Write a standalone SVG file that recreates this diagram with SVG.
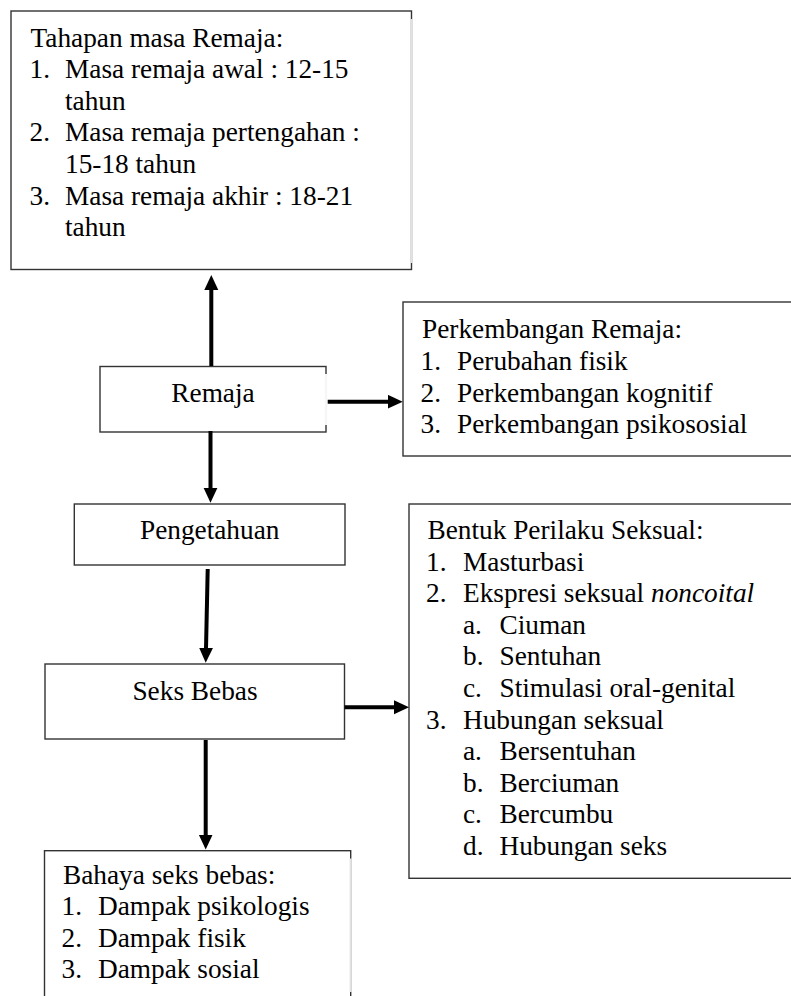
<svg xmlns="http://www.w3.org/2000/svg" width="791" height="996" viewBox="0 0 791 996">
<style>
  .box { fill: #ffffff; stroke: #333333; stroke-width: 1.4; }
  .fade { stroke: #e2e2e2; stroke-width: 2.2; }
  .gap { stroke: #f6f6f6; stroke-width: 2.2; }
  text { font-family: "Liberation Serif", "Times New Roman", serif; font-size: 27.3px; fill: #000000; }
  .c { text-anchor: middle; }
  .conn { stroke: #000000; stroke-width: 4; fill: none; marker-end: url(#arrow); }
</style>
<defs>
  <marker id="arrow" markerUnits="userSpaceOnUse" markerWidth="16" markerHeight="15" refX="3" refY="7" orient="auto" viewBox="0 0 16 15">
    <path d="M0,0 L15,7 L0,14 z" fill="#000000"/>
  </marker>
</defs>
<rect width="791" height="996" fill="#ffffff"/>

<g id="tahapan">
  <rect class="box" x="11" y="11" width="400.5" height="258.5"/>
  <line class="fade" x1="411.5" y1="19" x2="411.5" y2="263"/>
  <text x="30.5" y="46.5">Tahapan masa Remaja:</text>
  <text x="29.5" y="78.1">1.</text><text x="65" y="78.1">Masa remaja awal : 12-15</text>
  <text x="65" y="109.7">tahun</text>
  <text x="29.5" y="141.3">2.</text><text x="65" y="141.3">Masa remaja pertengahan :</text>
  <text x="65" y="172.9">15-18 tahun</text>
  <text x="29.5" y="204.5">3.</text><text x="65" y="204.5">Masa remaja akhir : 18-21</text>
  <text x="65" y="236.1">tahun</text>
</g>

<g id="remaja">
  <rect class="box" x="100" y="366.5" width="226" height="65.5"/>
  <line class="gap" x1="326" y1="374" x2="326" y2="425"/>
  <text class="c" x="213" y="401.7">Remaja</text>
</g>

<g id="perkembangan">
  <rect class="box" x="403" y="302" width="400" height="154"/>
  <text x="422" y="338.3">Perkembangan Remaja:</text>
  <text x="420.5" y="369.9">1.</text><text x="457" y="369.9">Perubahan fisik</text>
  <text x="420.5" y="401.5">2.</text><text x="457" y="401.5">Perkembangan kognitif</text>
  <text x="420.5" y="433.1">3.</text><text x="457" y="433.1">Perkembangan psikososial</text>
</g>

<g id="pengetahuan">
  <rect class="box" x="74.3" y="504" width="270.7" height="61"/>
  <text class="c" x="209.7" y="539.3">Pengetahuan</text>
</g>

<g id="bentuk">
  <rect class="box" x="409" y="504" width="400" height="374.3"/>
  <text x="427.5" y="539">Bentuk Perilaku Seksual:</text>
  <text x="426" y="570.6">1.</text><text x="463" y="570.6">Masturbasi</text>
  <text x="426" y="602.2">2.</text><text x="463" y="602.2">Ekspresi seksual <tspan font-style="italic">noncoital</tspan></text>
  <text x="463" y="633.8">a.</text><text x="499.5" y="633.8">Ciuman</text>
  <text x="463" y="665.4">b.</text><text x="499.5" y="665.4">Sentuhan</text>
  <text x="463" y="697">c.</text><text x="499.5" y="697">Stimulasi oral-genital</text>
  <text x="426" y="728.6">3.</text><text x="463" y="728.6">Hubungan seksual</text>
  <text x="463" y="760.2">a.</text><text x="499.5" y="760.2">Bersentuhan</text>
  <text x="463" y="791.8">b.</text><text x="499.5" y="791.8">Berciuman</text>
  <text x="463" y="823.4">c.</text><text x="499.5" y="823.4">Bercumbu</text>
  <text x="463" y="855">d.</text><text x="499.5" y="855">Hubungan seks</text>
</g>

<g id="seks-bebas">
  <rect class="box" x="45" y="664" width="299.5" height="75"/>
  <text class="c" x="195" y="700">Seks Bebas</text>
</g>

<g id="bahaya">
  <rect class="box" x="44.5" y="850.7" width="306.2" height="160"/>
  <line class="fade" x1="350.7" y1="858.5" x2="350.7" y2="992"/>
  <text x="63" y="883.5">Bahaya seks bebas:</text>
  <text x="61.5" y="915.1">1.</text><text x="98" y="915.1">Dampak psikologis</text>
  <text x="61.5" y="946.7">2.</text><text x="98" y="946.7">Dampak fisik</text>
  <text x="61.5" y="978.3">3.</text><text x="98" y="978.3">Dampak sosial</text>
</g>

<g id="connectors">
  <line class="conn" x1="211.3" y1="366" x2="211.3" y2="287"/>
  <line class="conn" x1="327.7" y1="401.7" x2="390.7" y2="401.7"/>
  <line class="conn" x1="210.5" y1="431" x2="210.5" y2="490.7"/>
  <line class="conn" x1="207.7" y1="569" x2="205.96" y2="650.7"/>
  <line class="conn" x1="344.5" y1="707.3" x2="397" y2="707.3"/>
  <line class="conn" x1="205.7" y1="740" x2="205.7" y2="837.5"/>
</g>
</svg>
